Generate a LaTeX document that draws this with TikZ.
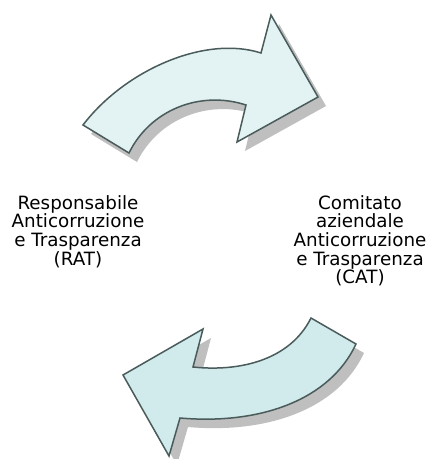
\documentclass[tikz,border=0pt]{standalone}
\usepackage{fontspec}
\setmainfont{DejaVu Sans}
\definecolor{arrowline}{HTML}{4A5B5B}
\definecolor{topfill}{HTML}{E3F3F3}
\definecolor{bottomfill}{HTML}{D1EAEB}
\tikzset{
  arrowbody/.style={draw=arrowline, line width=1.5pt, line join=miter},
  arrowshadow/.style={fill=black!25, draw=none, shift={(8,9)}},
  label/.style={align=center, inner sep=0pt, anchor=north,
    font=\fontsize{18.3}{18.7}\selectfont}
}
% curved arrow from the RAT side to the CAT side
\newcommand\toparrow[1]{\path[#1] (83,125) .. controls (125,70) and (205,35) .. (261,53)
  -- (271,15) -- (318,97) -- (237,142) -- (246,105)
  .. controls (200,90) and (150,110) .. (129,153) -- cycle;}
% curved arrow back from the CAT side to the RAT side
\newcommand\bottomarrow[1]{\path[#1] (356,344) .. controls (330,400) and (260,425) .. (180,418)
  -- (169,456) -- (123,375) -- (203,329) -- (193,367)
  .. controls (240,372) and (290,360) .. (311,318) -- cycle;}
\begin{document}
\begin{tikzpicture}[x=1pt, y=-1pt]
  %tikz  ciclo RAT - CAT
    \useasboundingbox (0,0) rectangle (429,459);

    \toparrow{arrowshadow}
    \toparrow{arrowbody, fill=topfill}

    \bottomarrow{arrowshadow}
    \bottomarrow{arrowbody, fill=bottomfill}

    \node[label] (rat) at (78,195) {Responsabile\\Anticorruzione\\e Trasparenza\\(RAT)};
    \node[label] (cat) at (360,195) {Comitato\\aziendale\\Anticorruzione\\e Trasparenza\\(CAT)};
  \end{tikzpicture}
\end{document}
